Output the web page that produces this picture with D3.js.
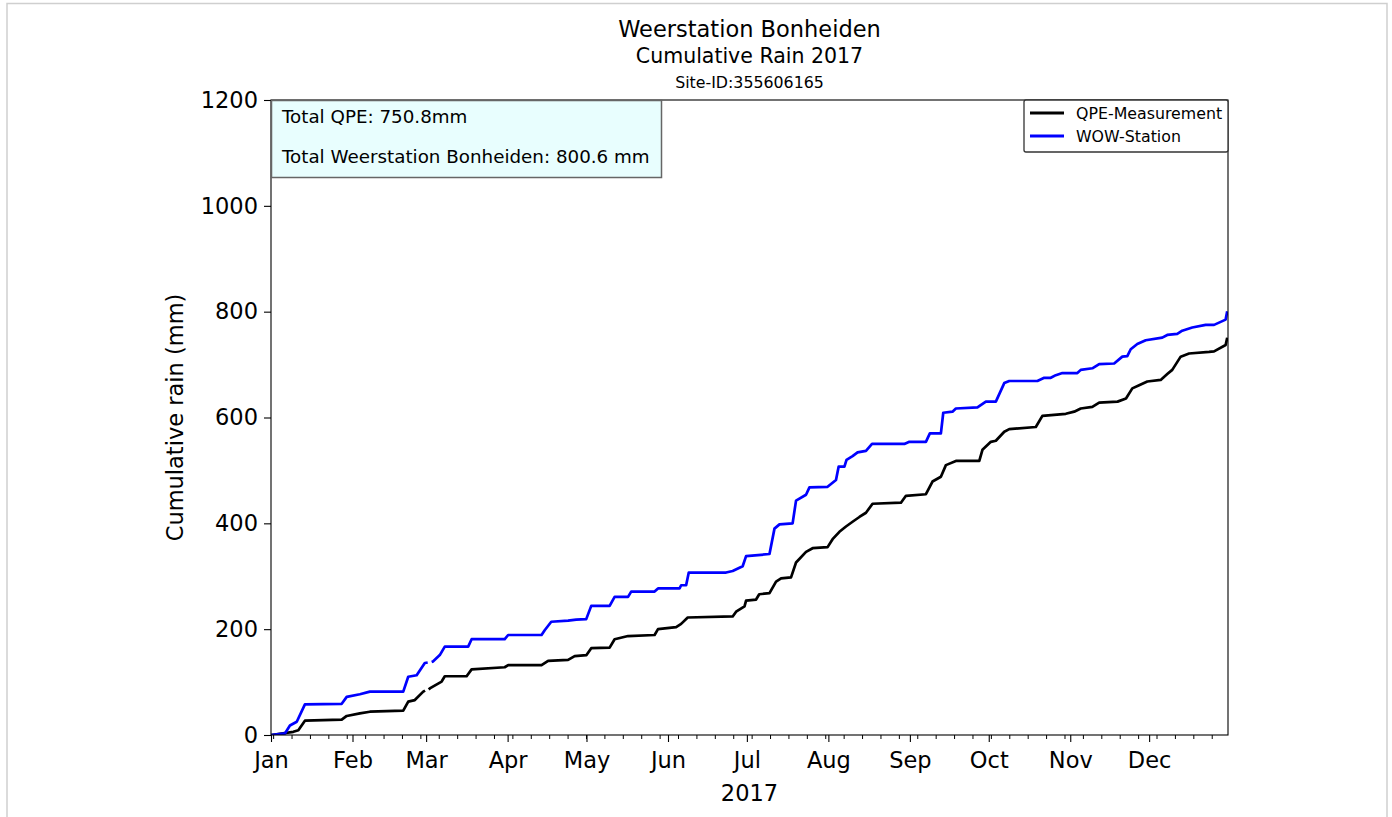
<!DOCTYPE html>
<html>
<head>
<meta charset="utf-8">
<script src="https://cdn.jsdelivr.net/npm/d3@7"></script>
<style>
  body { margin: 0; background: #fff; }
  text { font-family: "DejaVu Sans", sans-serif; fill: #000; }
</style>
</head>
<body>
<script>
// day-of-year (0 = Jan 1 2017) and cumulative rain (mm); null marks a data gap
const qpeDays = [0, 8.5, 10.4, 12.9, 26.9, 28.8, 33.8, 37.6, 50.3, 52.2, 54.7, 57.9, 58.6, 59.3, 60.0, 60.4, 64.9, 66.1, 74.4, 76.3,
  88.9, 90.2, 102.9, 105.4, 113, 115.5, 120, 121.8, 128.8, 130.7, 135.8, 145.9, 147.2, 154.1, 156, 158.5, 175.6, 176.9, 180.1, 180.7,
  184.5, 185.7, 189.6, 192.1, 194, 197.8, 199.7, 203.5, 206, 211.7, 213.6, 216.2, 218.7, 221.2, 223.8, 226.3, 228.8, 239.6, 241.5, 249.1,
  251.6, 254.8, 256.7, 260.5, 269.4, 270.6, 273.8, 275.7, 278.9, 280.8, 290.9, 293.4, 302.3, 305.5, 308, 312.4, 315, 322, 325.2, 327.6,
  330.2, 333.3, 338.4, 340.9, 342.8, 346, 349.2, 356.8, 358.7, 363.1, 363.7]
const qpeValues = [0, 6, 9, 27, 29, 36, 41, 44, 46, 63, 66, 82, 84, null, 86, 88, 101, 111, 111, 124,
  128, 132, 132, 140, 142, 149, 151, 164, 165, 181, 187, 189, 200, 204, 210, 222, 224, 233, 243, 254,
  256, 266, 268, 290, 296, 298, 326, 346, 353, 355, 370, 384, 394, 403, 412, 420, 437, 439, 452, 455,
  479, 488, 510, 518, 518, 539, 554, 556, 573, 578, 582, 603, 607, 611, 617, 620, 628, 630, 636, 655,
  661, 668, 671, 682, 690, 715, 721, 724, 725, 737, 750.8]

const wowDays = [0, 5.3, 7.2, 9.8, 12.9, 26.9, 28.8, 33.8, 37.6, 50.3, 52.2, 55.4, 58.5, 59.6, 60.3, 61.1, 61.6, 64.2, 66.1, 75, 76.3,
  88.9, 90.2, 102.9, 104.1, 106.6, 113, 116.1, 119.9, 121.8, 128.8, 130.7, 135.8, 137, 145.9, 147.2, 155.4, 156, 157.9, 158.9, 173.1,
  175.6, 179.4, 180.7, 189.6, 191.5, 193.4, 198.4, 199.7, 203.5, 204.8, 211.7, 214.9, 215.9, 218.1, 218.9, 221.2, 223.1, 226.3, 228.6,
  240.9, 242.8, 249.1, 250.6, 254.8, 255.7, 259.2, 260.5, 268.7, 271.9, 275.7, 278.9, 280.8, 291.5, 294.1, 296.6, 298.5, 301, 306.7,
  308, 312.4, 315, 320.7, 323.8, 325.7, 327, 329.5, 332.7, 339, 340.9, 344.7, 346.6, 350.4, 355.5, 358.7, 363.1, 363.7]
const wowValues = [0, 3, 18, 25, 58, 59, 72, 77, 82, 82, 110, 113, 136, 137, null, 138, 139, 151, 167, 167, 181,
  181, 189, 189, 198, 214, 216, 218, 219, 244, 244, 261, 261, 271, 271, 277, 277, 283, 283, 307, 307,
  310, 319, 338, 342, 390, 398, 400, 443, 454, 468, 469, 482, 507, 507, 520, 527, 534, 537, 550,
  550, 554, 554, 570, 570, 609, 611, 617, 619, 630, 630, 665, 669, 669, 675, 675, 680, 684, 684,
  690, 693, 701, 702, 715, 716, 729, 739, 746, 751, 756, 758, 764, 770, 775, 775, 785, 800.6]

const monthLabels = ["Jan", "Feb", "Mar", "Apr", "May", "Jun", "Jul", "Aug", "Sep", "Oct", "Nov", "Dec"]
const yTicks = [0, 200, 400, 600, 800, 1000, 1200]
const seriesNames = ["QPE-Measurement", "WOW-Station"]
const seriesColors = ["#000000", "#0000ff"]
const infoLines = ["Total QPE: 750.8mm", "Total Weerstation Bonheiden: 800.6 mm"]

const W = 1392, H = 817
const margin = { left: 271, right: 1392 - 1228, top: 100, bottom: 817 - 735 }
const start = new Date(2017, 0, 1)
const toDate = d => new Date(start.getTime() + d * 864e5)

const svg = d3.select("body").append("svg")
  .attr("width", W)
  .attr("height", H)

// figure frame
svg.append("rect")
  .attr("x", 7).attr("y", 3.5)
  .attr("width", 1380).attr("height", 830)
  .attr("fill", "none")
  .attr("stroke", "#cfcfcf")
  .attr("stroke-width", 1.5)

const x = d3.scaleTime()
  .domain([start, new Date(2017, 11, 31)])
  .range([margin.left, W - margin.right])
const y = d3.scaleLinear()
  .domain([0, 1200])
  .range([H - margin.bottom, margin.top])

// titles
const cx = (margin.left + W - margin.right) / 2
svg.append("text").attr("x", cx).attr("y", 37).attr("text-anchor", "middle")
  .style("font-size", "22.5px").text("Weerstation Bonheiden")
svg.append("text").attr("x", cx).attr("y", 63).attr("text-anchor", "middle")
  .style("font-size", "20.5px").text("Cumulative Rain 2017")
svg.append("text").attr("x", cx).attr("y", 88).attr("text-anchor", "middle")
  .style("font-size", "15.8px").text("Site-ID:355606165")

svg.append("defs").append("clipPath").attr("id", "clip")
  .append("rect")
  .attr("x", margin.left).attr("y", margin.top)
  .attr("width", W - margin.right - margin.left)
  .attr("height", H - margin.bottom - margin.top)

// lines
const line = d3.line()
  .defined(d => d[1] != null)
  .x(d => x(toDate(d[0])))
  .y(d => y(d[1]))

const series = [
  d3.zip(qpeDays, qpeValues),
  d3.zip(wowDays, wowValues)
]
series.forEach((s, i) => {
  svg.append("path")
    .datum(s)
    .attr("clip-path", "url(#clip)")
    .attr("fill", "none")
    .attr("stroke", seriesColors[i])
    .attr("stroke-width", 2.7)
    .attr("stroke-linejoin", "round")
    .attr("d", line)
})

// axes
const xAxis = svg.append("g")
  .attr("transform", `translate(0,${H - margin.bottom})`)
  .call(d3.axisBottom(x).ticks(d3.timeMonth.every(1))
    .tickFormat(d => monthLabels[d.getMonth()])
    .tickSize(7).tickPadding(8))
xAxis.selectAll("text").style("font-size", "22.5px").attr("dy", "0.8em")

const minorTicks = d3.timeMonday.range(start, new Date(2017, 11, 31))
svg.append("g").selectAll("line")
  .data(minorTicks)
  .join("line")
  .attr("x1", d => x(d)).attr("x2", d => x(d))
  .attr("y1", H - margin.bottom).attr("y2", H - margin.bottom + 4)
  .attr("stroke", "#000").attr("stroke-width", 1)

const yAxis = svg.append("g")
  .attr("transform", `translate(${margin.left},0)`)
  .call(d3.axisLeft(y).tickValues(yTicks).tickFormat(d3.format("d")).tickSize(7).tickPadding(6))
yAxis.selectAll("text").style("font-size", "22.5px")

svg.selectAll(".domain").remove()
svg.selectAll(".tick line").attr("stroke-width", 1.1)

// spines
svg.append("rect")
  .attr("x", margin.left).attr("y", margin.top)
  .attr("width", W - margin.right - margin.left)
  .attr("height", H - margin.bottom - margin.top)
  .attr("fill", "none")
  .attr("stroke", "#000")
  .attr("stroke-width", 1.1)

svg.append("text").attr("x", cx).attr("y", 801).attr("text-anchor", "middle")
  .style("font-size", "22.5px").text("2017")
svg.append("text")
  .attr("transform", `translate(183,${(margin.top + H - margin.bottom) / 2}) rotate(-90)`)
  .attr("text-anchor", "middle")
  .style("font-size", "22.5px").text("Cumulative rain (mm)")

// info box
const info = svg.append("g")
info.append("rect")
  .attr("x", margin.left + 0.5).attr("y", margin.top + 0.5)
  .attr("width", 390).attr("height", 77)
  .attr("fill", "#e8fefe")
  .attr("stroke", "#666")
  .attr("stroke-width", 1.5)
info.selectAll("text")
  .data(infoLines)
  .join("text")
  .attr("x", 282)
  .attr("y", (d, i) => 123 + i * 40)
  .style("font-size", "18.3px")
  .text(d => d)

// legend
const lg = svg.append("g")
lg.append("rect")
  .attr("x", 1024).attr("y", 100)
  .attr("width", 204).attr("height", 52)
  .attr("rx", 2)
  .attr("fill", "#fff")
  .attr("stroke", "#333")
  .attr("stroke-width", 1.3)
seriesNames.forEach((n, i) => {
  lg.append("line")
    .attr("x1", 1030).attr("x2", 1064)
    .attr("y1", 113 + i * 23).attr("y2", 113 + i * 23)
    .attr("stroke", seriesColors[i]).attr("stroke-width", 2.8)
  lg.append("text")
    .attr("x", 1076).attr("y", 119 + i * 23)
    .style("font-size", "15.8px")
    .text(n)
})
</script>
</body>
</html>
